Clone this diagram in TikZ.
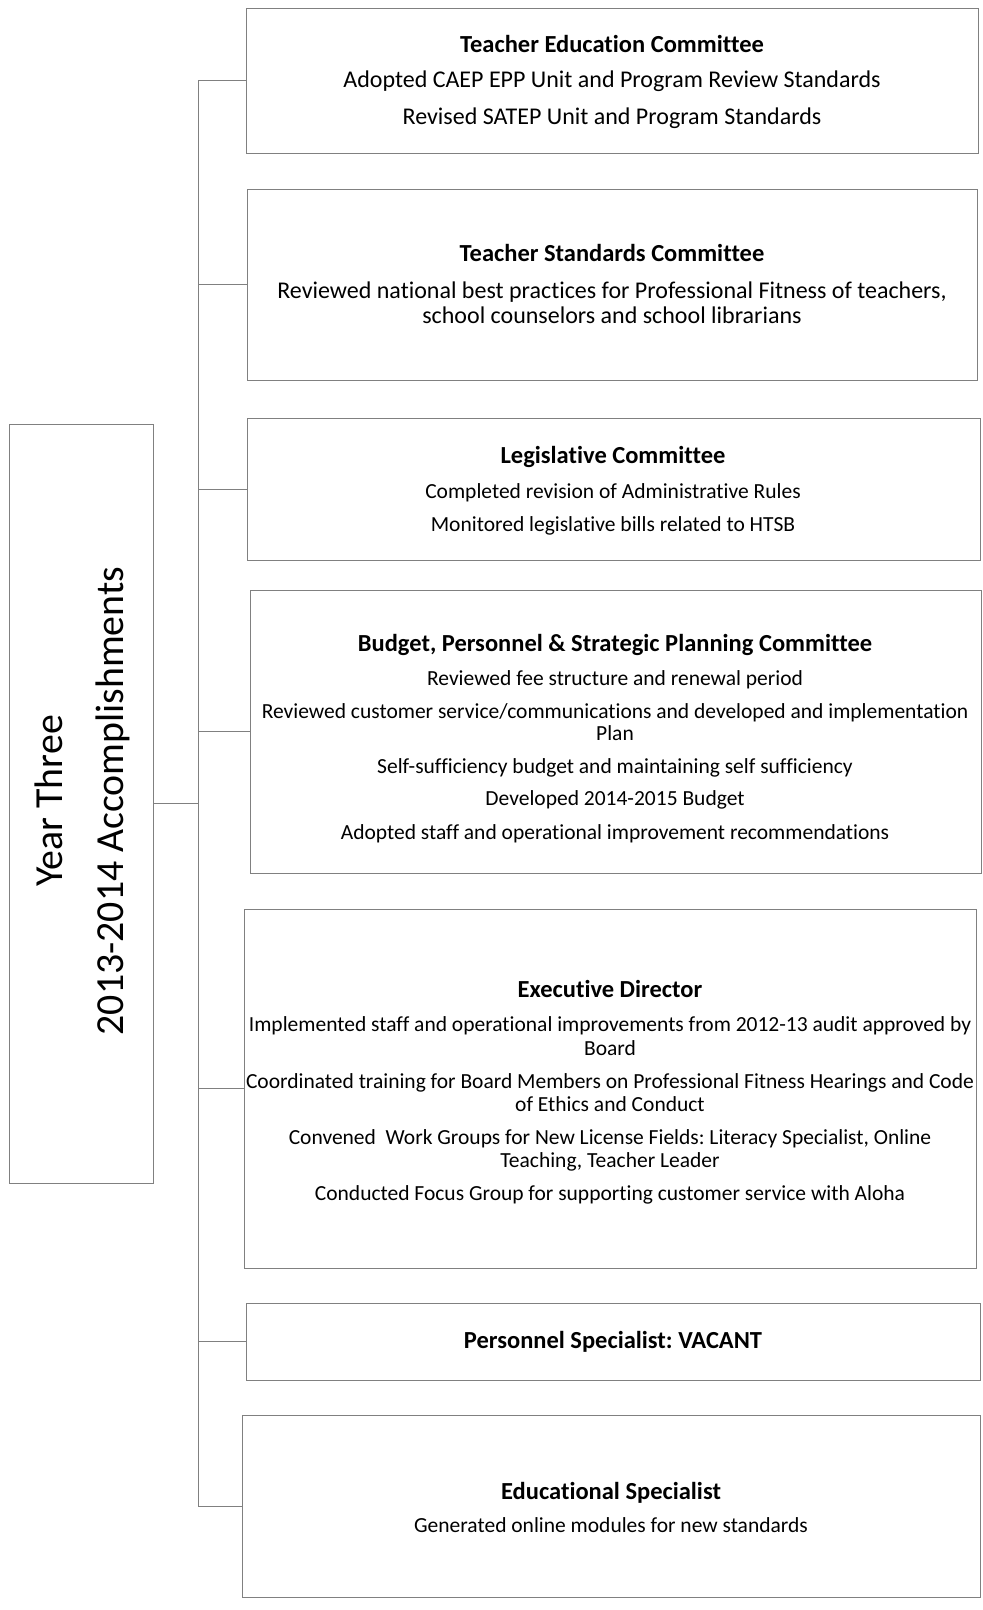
\documentclass[tikz,border=0pt]{standalone}
\usepackage{fontspec}
\setmainfont{Carlito}[Ligatures={NoCommon,NoRare,NoContextual}]
\frenchspacing
\begin{document}
\begin{tikzpicture}[x=1pt,y=-1pt,
  box/.style={draw=black!50, line width=0.8pt, anchor=north west, inner sep=0pt, outer sep=0pt},
  conn/.style={draw=black!50, line width=0.8pt},
  ttl/.style={anchor=base, inner sep=0pt, font=\bfseries\fontsize{24.5}{27}\selectfont},
  bd/.style={anchor=base, inner sep=0pt, font=\fontsize{#1}{#1}\selectfont},
  bd/.default=21]
\useasboundingbox (0,0) rectangle (983,1610);
% boxes
\node[box, minimum width=144pt, minimum height=759pt] (left) at (9,424) {};
\node[box, minimum width=732pt, minimum height=145pt] (b1) at (246,8) {};
\node[box, minimum width=730pt, minimum height=191pt] (b2) at (247,189) {};
\node[box, minimum width=733pt, minimum height=142pt] (b3) at (247,418) {};
\node[box, minimum width=731pt, minimum height=283pt] (b4) at (250,590) {};
\node[box, minimum width=732pt, minimum height=359pt] (b5) at (244,909) {};
\node[box, minimum width=734pt, minimum height=77pt] (b6) at (246,1303) {};
\node[box, minimum width=738pt, minimum height=182pt] (b7) at (242,1415) {};
% connectors
\coordinate (sptop) at (198,80);
\coordinate (spbot) at (198,1506);
\draw[conn] (sptop) -- (spbot);
\draw[conn] (left.east) -- (left.east -| sptop);
\foreach \b in {b1,b2,b3,b4,b5,b6,b7} \draw[conn] (\b.west -| sptop) -- (\b.west);
% left text
\node[anchor=base, rotate=90, inner sep=0pt, font=\fontsize{39.8}{42}\selectfont] (yr) at (62,801) {Year Three};
\node[anchor=base, rotate=90, inner sep=0pt, font=\fontsize{39.8}{42}\selectfont] (acc) at (123,801) {2013-2014 Accomplishments};
% box 1
\node[ttl] (b1t) at (612,52) {Teacher Education Committee};
\node[bd=24] (b1a) at (612,87) {Adopted CAEP EPP Unit and Program Review Standards};
\node[bd=24] (b1b) at (612,124) {Revised SATEP Unit and Program Standards};
% box 2
\node[ttl] (b2t) at (612,261) {Teacher Standards Committee};
\node[bd=24] (b2a) at (612,298) {Reviewed national best practices for Professional Fitness of teachers,};
\node[bd=24] (b2b) at (612,323) {school counselors and school librarians};
% box 3
\node[ttl] (b3t) at (613,463) {Legislative Committee};
\node[bd=21.5] (b3a) at (613,498) {Completed revision of Administrative Rules};
\node[bd=21.5] (b3b) at (613,531) {Monitored legislative bills related to HTSB};
% box 4
\node[ttl] (b4t) at (615,651) {Budget, Personnel \& Strategic Planning Committee};
\node[bd=21.5] (b4a) at (615,685) {Reviewed fee structure and renewal period};
\node[bd=21.5] (b4b) at (615,718) {Reviewed customer service/communications and developed and implementation};
\node[bd=21.5] (b4c) at (615,740) {Plan};
\node[bd=21.5] (b4d) at (615,773) {Self-sufficiency budget and maintaining self sufficiency};
\node[bd=21.5] (b4e) at (615,805) {Developed 2014-2015 Budget};
\node[bd=21.5] (b4f) at (615,839) {Adopted staff and operational improvement recommendations};
% box 5
\node[ttl] (b5t) at (610,997) {Executive Director};
\node[bd=21.5] (b5a) at (610,1031) {Implemented staff and operational improvements from 2012-13 audit approved by};
\node[bd=21.5] (b5b) at (610,1055) {Board};
\node[bd=21.5] (b5c) at (610,1088) {Coordinated training for Board Members on Professional Fitness Hearings and Code};
\node[bd=21.5] (b5d) at (610,1111) {of Ethics and Conduct};
\node[bd=21.5] (b5e) at (610,1144) {Convened\ \ Work Groups for New License Fields: Literacy Specialist, Online};
\node[bd=21.5] (b5f) at (610,1167) {Teaching, Teacher Leader};
\node[bd=21.5] (b5g) at (610,1200) {Conducted Focus Group for supporting customer service with Aloha};
% box 6
\node[ttl] (b6t) at (613,1348) {Personnel Specialist: VACANT};
% box 7
\node[ttl] (b7t) at (611,1499) {Educational Specialist};
\node[bd=21.5] (b7a) at (611,1532) {Generated online modules for new standards};
\end{tikzpicture}
\end{document}
